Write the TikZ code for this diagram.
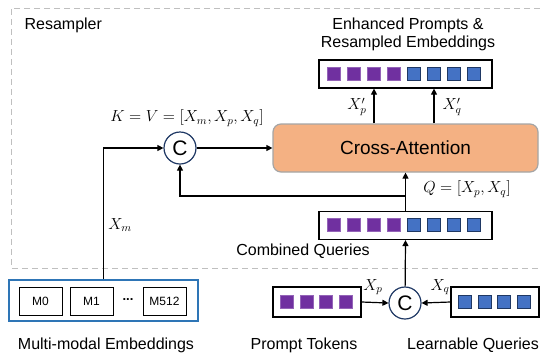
\documentclass[tikz,border=0pt]{standalone}
\usepackage{fix-cm}
\usepackage{fontspec}
\setmainfont{Liberation Sans}
\usetikzlibrary{arrows.meta}
\definecolor{tokpurple}{HTML}{7030A0}
\definecolor{tokblue}{HTML}{4472C4}
\definecolor{tokedge}{HTML}{1F3864}
\definecolor{attnfill}{HTML}{F4B183}
\definecolor{attnedge}{HTML}{A5A5A5}
\definecolor{mmblue}{HTML}{2E75B6}
\begin{document}
\begin{tikzpicture}[x=1pt, y=-1pt, line width=1.2pt,
        arr/.style={-{Triangle[length=6pt,width=6pt]}},
        lbl/.style={font=\fontsize{16}{18}\selectfont, inner sep=0},
        tokbox/.style={draw, minimum width=173, minimum height=28, inner sep=0},
        inbox/.style={draw, minimum width=88, minimum height=30, inner sep=0},
        ptok/.style={fill=tokpurple, draw=tokpurple!75, line width=0.6pt, minimum size=13, inner sep=0},
        qtok/.style={fill=tokblue, draw=tokedge, line width=0.8pt, minimum size=13, inner sep=0},
        catnode/.style={circle, draw=tokedge, minimum size=32, inner sep=0, font=\fontsize{21}{23}\selectfont},
        mtok/.style={draw, line width=0.9pt, minimum width=43, minimum height=28, inner sep=0, font=\fontsize{12}{14}\selectfont}]
    \useasboundingbox (0,0) rectangle (540,354);
    \draw[gray!50, line width=1pt, dash pattern=on 6pt off 4pt] (540,8) -| (11,268) -- (540,268);
    \node[lbl, anchor=west] (title) at (24,25) {Resampler};

    \node[lbl, align=center, font=\fontsize{16}{18}\selectfont] (outlbl) at (408,34) {Enhanced Prompts \&\\Resampled Embeddings};
    \node[tokbox] (enh) at (405.5,74) {};
    \node[tokbox] (comb) at (405.5,225.5) {};
    \foreach \i in {0,...,3} {
        \node[ptok] (e\i) at (334+20*\i,74) {};
        \node[ptok] (c\i) at (334+20*\i,225) {};
    }
    \foreach \i in {4,...,7} {
        \node[qtok] (e\i) at (334+20*\i,74) {};
        \node[qtok] (c\i) at (334+20*\i,225) {};
    }
    \node[lbl] (comblbl) at (303,251) {Combined Queries};

    \node[draw=attnedge, fill=attnfill, rounded corners=8pt, minimum width=265, minimum height=48,
        font=\fontsize{19}{21}\selectfont] (xattn) at (405.5,148) {Cross-Attention};
    \node[catnode] (ctop) at (180,148) {C};
    \node[lbl] (kv) at (187,118) {$K=V=[X_m,X_p,X_q]$};
    \coordinate (qsplit) at (405.5,196);

    \node[draw=mmblue, minimum width=189, minimum height=41, inner sep=0] (mm) at (103.5,300.5) {};
    \node[mtok] (m0) at (40.5,301) {M0};
    \node[mtok] (m1) at (91.5,301) {M1};
    \node[font=\fontsize{13}{15}\selectfont\bfseries, inner sep=0] (mdots) at (128,300) {...};
    \node[mtok] (m512) at (164.5,301) {M512};
    \node[lbl] (mmlbl) at (106,345) {Multi-modal Embeddings};

    \node[inbox] (prompt) at (317,302) {};
    \foreach \i in {0,...,3}
        \node[ptok] (p\i) at (287+19.5*\i,302) {};
    \node[lbl] (promptlbl) at (304,345) {Prompt Tokens};
    \node[inbox] (learn) at (495,302) {};
    \foreach \i in {0,...,3}
        \node[qtok] (q\i) at (465+19.5*\i,302) {};
    \node[lbl] (learnlbl) at (473,345) {Learnable Queries};
    \node[catnode] (cbot) at (405,303) {C};

    \draw[arr] (mm.north) |- (ctop);
    \draw[arr] (ctop) -- (xattn.west);
    \draw[arr] (comb.north) -- (xattn.south);
    \draw[arr] (qsplit) -| (ctop.south);
    \draw[arr] (xattn.north -| e2) -- (e2 |- enh.south);
    \draw[arr] (xattn.north -| e5) -- (e5 |- enh.south);
    \draw[arr] (cbot) -- (comb.south);
    \draw[arr] (prompt.east) -- (cbot.west);
    \draw[arr] (learn.west) -- (cbot.east);

    \node[lbl] (xm) at (120,225) {$X_m$};
    \node[lbl] (xpo) at (357,107) {$X'_p$};
    \node[lbl] (xqo) at (452,107) {$X'_q$};
    \node[lbl] (qlbl) at (467,189) {$Q=[X_p,X_q]$};
    \node[lbl] (xp) at (373,287) {$X_p$};
    \node[lbl] (xq) at (440,287) {$X_q$};
\end{tikzpicture}
\end{document}
